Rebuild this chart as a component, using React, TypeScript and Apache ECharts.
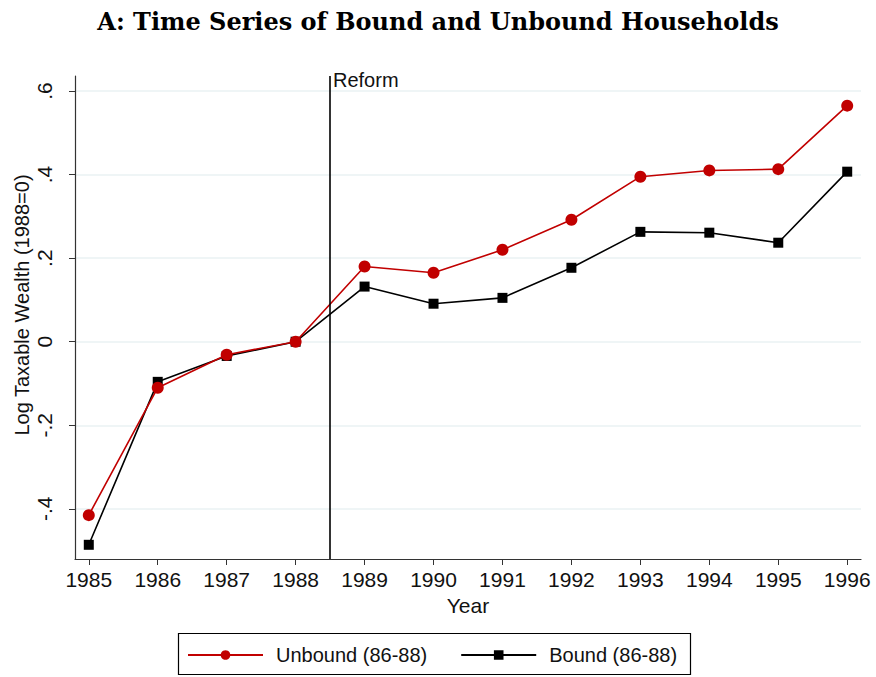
import React, { useEffect, useRef } from "react";
import * as echarts from "echarts";

const years = [1985, 1986, 1987, 1988, 1989, 1990, 1991, 1992, 1993, 1994, 1995, 1996];
const unbound = [-0.415, -0.11, -0.031, 0, 0.18, 0.165, 0.22, 0.292, 0.395, 0.41, 0.413, 0.565];
const bound = [-0.486, -0.096, -0.034, 0, 0.132, 0.091, 0.105, 0.177, 0.263, 0.261, 0.237, 0.407];
const yTicks = [-0.4, -0.2, 0, 0.2, 0.4, 0.6];
const reformYear = 1988.5;

const FONT = "Liberation Sans";

function fmtY(v: number) {
  if (Math.abs(v) < 1e-9) return "0";
  const s = v.toFixed(1);
  return s.replace("0.", ".");
}

export default function App() {
  const ref = useRef<HTMLDivElement>(null);
  useEffect(() => {
    if (!ref.current) return;
    const chart = echarts.init(ref.current, null, { renderer: "svg" });
    chart.setOption({
      animation: false,
      backgroundColor: "#ffffff",
      title: {
        text: "A: Time Series of Bound and Unbound Households",
        left: "center",
        top: 4,
        textStyle: { fontFamily: "DejaVu Serif", fontWeight: "bold", fontSize: 24, color: "#000" },
      },
      grid: { left: 75, right: 15, top: 76, bottom: 118, containLabel: false },
      legend: {
        left: 187,
        top: 644,
        itemWidth: 75,
        itemHeight: 12,
        itemGap: 33,
        padding: 0,
        textStyle: { fontFamily: FONT, fontSize: 20, lineHeight: 22, color: "#111", padding: [0, 0, 0, 8] },
        data: ["Unbound (86-88)", "Bound (86-88)"],
      },
      xAxis: {
        type: "value",
        min: 1984.8,
        max: 1996.2,
        name: "Year",
        nameLocation: "middle",
        nameGap: 36,
        nameTextStyle: { fontFamily: FONT, fontSize: 21, color: "#111" },
        axisLine: { show: true, onZero: false, lineStyle: { color: "#333", width: 1.2 } },
        axisTick: { show: true, length: 6, lineStyle: { color: "#333" }, customValues: years },
        axisLabel: {
          fontFamily: FONT,
          fontSize: 21,
          color: "#111",
          margin: 10,
          customValues: years,
          formatter: (v: number) => String(Math.round(v)),
        },
        splitLine: { show: false },
      },
      yAxis: {
        type: "value",
        min: -0.52,
        max: 0.636,
        axisLine: { show: true, onZero: false, lineStyle: { color: "#333", width: 1.2 } },
        axisTick: { show: true, length: 6, lineStyle: { color: "#333" }, customValues: yTicks },
        axisLabel: {
          fontFamily: FONT,
          fontSize: 21,
          color: "#111",
          rotate: 90,
          margin: 20,
          customValues: yTicks,
          formatter: (v: number) => fmtY(v),
        },
        splitLine: { show: true, lineStyle: { color: "#eaf2f3", width: 1.5 } },
      },
      graphic: [
        {
          type: "rect",
          shape: { x: 178.5, y: 633.5, width: 512, height: 41 },
          style: { fill: "none", stroke: "#000", lineWidth: 1.2 },
          silent: true,
        },
        {
          type: "text",
          x: 22,
          y: 305,
          rotation: Math.PI / 2,
          style: {
            text: "Log Taxable Wealth (1988=0)",
            fontFamily: FONT,
            fontSize: 20,
            fill: "#111",
            textAlign: "center",
            textVerticalAlign: "middle",
          },
        },
        {
          type: "text",
          x: 333,
          y: 80,
          style: {
            text: "Reform",
            fontFamily: FONT,
            fontSize: 20,
            fill: "#111",
            textAlign: "left",
            textVerticalAlign: "middle",
          },
        },
      ],
      series: [
        {
          name: "Unbound (86-88)",
          type: "line",
          data: years.map((y, i) => [y, unbound[i]]),
          symbol: "circle",
          symbolSize: 12,
          itemStyle: { color: "#c10000" },
          lineStyle: { color: "#c10000", width: 1.6 },
          z: 3,
          markLine: {
            silent: true,
            symbol: "none",
            label: { show: false },
            lineStyle: { color: "#000", width: 1.6, type: "solid" },
            data: [{ xAxis: reformYear }],
          },
        },
        {
          name: "Bound (86-88)",
          type: "line",
          data: years.map((y, i) => [y, bound[i]]),
          symbol: "rect",
          symbolSize: 10,
          itemStyle: { color: "#000" },
          lineStyle: { color: "#000", width: 1.6 },
          z: 2,
        },
      ],
    });
    return () => chart.dispose();
  }, []);
  return (
    <div
      ref={ref}
      style={{ position: "fixed", left: 0, top: 0, width: 876, height: 677, background: "#fff" }}
    />
  );
}
